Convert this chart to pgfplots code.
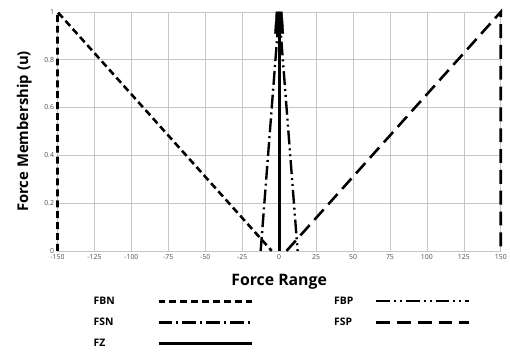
\documentclass[border=0pt]{standalone}
\usepackage{pgfplots}
\pgfplotsset{compat=1.18}
\usepackage{fontspec}
\setmainfont{Open Sans}
\begin{document}
\begin{tikzpicture}[x=1bp,y=1bp]
\begin{axis}[
  scale only axis,
  width=447bp, height=241bp,
  xmin=-150, xmax=150, ymin=0, ymax=1,
  xtick={-150,-125,...,150},
  ytick={0,0.2,0.4,0.6,0.8,1},
  yticklabels={0,0.2,0.4,0.6,0.8,1},
  grid=major,
  grid style={gray!45, line width=0.6pt},
  axis line style={gray!45, line width=0.6pt},
  tick style={draw=none},
  ticklabel style={font=\fontsize{7}{8}\selectfont, text=black!70},
  /pgf/number format/assume math mode=true,
  xlabel={\bfseries Force Range},
  ylabel={\bfseries Force Membership (u)},
  xlabel style={font=\fontsize{16}{18}\selectfont, yshift=-8pt},
  ylabel style={font=\fontsize{15}{17}\selectfont, yshift=6pt},
  clip=false,
  legend columns=2,
  legend plot pos=right,
  legend cell align=left,
  legend style={draw=none, fill=none, at={(axis description cs:0.07,-0.175)}, anchor=north west,
    font=\fontsize{10.5}{12}\selectfont\bfseries,
    /tikz/row sep=8.5pt,
    /tikz/column 2/.style={column sep=80pt}},
  legend image code/.code={\draw[#1] (0bp,0bp) -- (94bp,0bp);},
]
% FBN
\addplot[black, line width=2.6pt, dash pattern=on 7bp off 4bp] coordinates {(-150,0) (-150,1) (-5,0)};
\addlegendentry{\makebox[62bp][l]{FBN}}
% FBP
\addplot[black, line width=2.4pt, dash pattern=on 14bp off 4bp on 2bp off 4bp on 2bp off 4bp] coordinates {(0,1) (12.5,0)};
\addlegendentry{\makebox[39bp][l]{FBP}}
% FSN
\addplot[black, line width=2.4pt, dash pattern=on 14bp off 4bp on 2bp off 4bp] coordinates {(-12.5,0) (0,1)};
\addlegendentry{\makebox[62bp][l]{FSN}}
% FSP
\addplot[black, line width=2.6pt, dash pattern=on 14bp off 7bp] coordinates {(5,0) (150,1) (150,0)};
\addlegendentry{\makebox[39bp][l]{FSP}}
% FZ
\addplot[black, line width=2.8pt] coordinates {(0,0) (0,1)};
\addlegendentry{\makebox[62bp][l]{FZ}}
\addplot[black, fill=black, forget plot] coordinates {(-3.2,0.91) (-2.2,1) (2.2,1) (3.2,0.91)} -- cycle;
\path (rel axis cs:0,0) ++(-58bp,-108bp) coordinate (bbl);
\path (rel axis cs:1,1) ++(5bp,12bp) coordinate (bbr);
\end{axis}
\useasboundingbox (bbl) rectangle (bbr);
\end{tikzpicture}
\end{document}
